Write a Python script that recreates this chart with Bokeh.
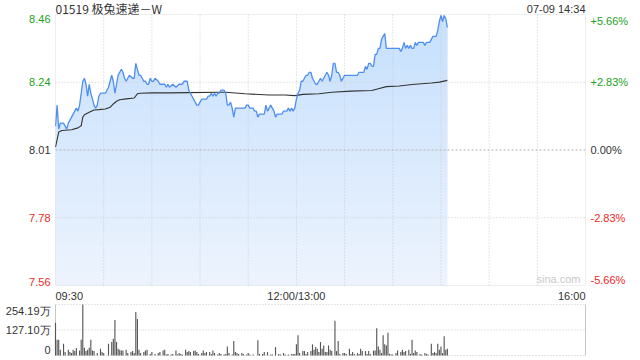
import numpy as np
from bokeh.plotting import figure
from bokeh.models import Range1d, BoxAnnotation
from bokeh.core.properties import value
from bokeh.embed import file_html
from bokeh.resources import INLINE

# ---------------- data ----------------
title_text = "01519 极兔速递－W"
stamp_text = "07-09 14:34"
prev_close = 8.01
pct_steps = [5.66, 2.83, 0.0, -2.83, -5.66]
price_tick_labels = ["8.46", "8.24", "8.01", "7.78", "7.56"]
pct_tick_labels = ["+5.66%", "+2.83%", "0.00%", "-2.83%", "-5.66%"]
time_labels = ["09:30", "12:00/13:00", "16:00"]
time_label_minutes = [0, 150, 330]          # trading minutes since 09:30
session_minutes = 330
vol_top = 254.19
vol_tick_values = [254.19, 127.10, 0]
vol_tick_labels = ["254.19万", "127.10万", "0"]

# (trading minute since 09:30, price)
price_points = [
    (0, 8.09), (1, 8.16), (2, 8.08), (3, 8.10), (5, 8.10), (7, 8.08), (8, 8.10), (10, 8.12),
    (13, 8.15), (14, 8.14), (15, 8.16), (16, 8.20), (17, 8.24), (18, 8.25), (19, 8.23), (20, 8.19),
    (21, 8.23), (22, 8.20), (23, 8.18), (24, 8.16), (25, 8.15), (26, 8.16), (27, 8.19), (28, 8.20),
    (31, 8.20), (33, 8.22), (34, 8.24), (35, 8.26), (36, 8.24), (37, 8.20), (38, 8.23), (39, 8.26),
    (41, 8.28), (42, 8.27), (43, 8.25), (44, 8.24), (45, 8.25), (46, 8.26), (48, 8.25), (49, 8.25),
    (50, 8.30), (51, 8.28), (52, 8.26), (53, 8.26), (54, 8.25), (55, 8.24), (56, 8.24), (57, 8.23),
    (58, 8.23), (59, 8.25), (60, 8.24), (61, 8.24), (62, 8.25), (64, 8.24), (65, 8.23), (66, 8.23),
    (68, 8.23), (69, 8.22), (70, 8.23), (71, 8.22), (73, 8.23), (75, 8.22), (77, 8.23), (79, 8.23),
    (80, 8.24), (82, 8.24), (83, 8.21), (84, 8.20), (85, 8.19), (87, 8.17), (88, 8.16), (89, 8.16),
    (90, 8.17), (91, 8.18), (92, 8.18), (93, 8.18), (94, 8.18), (95, 8.19), (96, 8.19), (97, 8.20),
    (98, 8.19), (99, 8.20), (100, 8.19), (101, 8.20), (102, 8.20), (103, 8.21), (104, 8.21), (105, 8.21),
    (106, 8.20), (107, 8.16), (108, 8.16), (109, 8.17), (110, 8.15), (111, 8.12), (112, 8.15), (113, 8.15),
    (115, 8.15), (118, 8.15), (119, 8.16), (120, 8.16), (121, 8.15), (122, 8.15), (123, 8.15), (124, 8.14),
    (125, 8.14), (126, 8.12), (127, 8.13), (128, 8.13), (129, 8.13), (130, 8.13), (131, 8.16), (132, 8.14),
    (133, 8.15), (134, 8.16), (135, 8.15), (136, 8.14), (137, 8.12), (138, 8.13), (140, 8.13), (141, 8.13),
    (142, 8.14), (143, 8.14), (144, 8.14), (145, 8.15), (146, 8.14), (147, 8.15), (148, 8.14), (149, 8.15),
    (150, 8.18), (151, 8.20), (152, 8.21), (153, 8.24), (154, 8.24), (155, 8.25), (156, 8.26), (157, 8.26),
    (158, 8.27), (159, 8.27), (160, 8.25), (161, 8.24), (162, 8.23), (163, 8.23), (164, 8.24), (165, 8.25),
    (166, 8.24), (167, 8.25), (169, 8.27), (170, 8.26), (171, 8.24), (172, 8.26), (173, 8.30), (174, 8.30),
    (175, 8.27), (176, 8.27), (177, 8.26), (178, 8.24), (179, 8.25), (180, 8.26), (188, 8.26), (189, 8.27),
    (191, 8.27), (192, 8.27), (193, 8.29), (194, 8.28), (195, 8.30), (196, 8.30), (197, 8.29), (198, 8.29),
    (199, 8.33), (200, 8.33), (201, 8.35), (202, 8.35), (203, 8.38), (204, 8.39), (205, 8.40), (206, 8.35),
    (214, 8.35), (215, 8.34), (216, 8.35), (217, 8.37), (218, 8.35), (219, 8.36), (220, 8.35), (221, 8.36),
    (222, 8.35), (223, 8.35), (224, 8.37), (225, 8.36), (226, 8.37), (228, 8.37), (229, 8.37), (230, 8.36),
    (231, 8.37), (233, 8.37), (234, 8.38), (235, 8.39), (236, 8.39), (237, 8.39), (238, 8.41), (239, 8.44),
    (240, 8.46), (241, 8.44), (242, 8.46), (243, 8.45), (244, 8.42),
]

# (trading minute, average price)
avg_points = [
    (0, 8.02), (2, 8.07), (4, 8.075), (10, 8.078), (14, 8.084), (16, 8.091), (17, 8.12), (18, 8.128),
    (21, 8.136), (24, 8.144), (27, 8.145), (31, 8.147), (34, 8.153), (36, 8.164), (38, 8.173), (40, 8.178),
    (44, 8.181), (49, 8.184), (51, 8.198), (53, 8.200), (60, 8.201), (71, 8.201), (82, 8.202), (102, 8.203),
    (106, 8.203), (118, 8.198), (133, 8.194), (143, 8.194), (149, 8.192), (154, 8.196), (164, 8.198),
    (172, 8.203), (184, 8.207), (197, 8.209), (201, 8.215), (206, 8.222), (214, 8.224), (222, 8.229),
    (234, 8.234), (239, 8.237), (244, 8.243),
]

# (trading minute, volume in 万 shares)
volume_points = [
    (0, 163), (1, 79), (2, 79), (3, 29), (5, 59), (6, 17), (8, 29), (9, 17), (10, 12), (11, 29), (12, 22),
    (13, 37), (15, 25), (16, 79), (17, 254), (18, 39), (19, 22), (20, 29), (21, 39), (22, 79), (23, 25),
    (24, 22), (26, 12), (28, 34), (29, 17), (30, 12), (33, 59), (35, 67), (36, 84), (37, 177), (38, 67),
    (39, 34), (40, 29), (41, 25), (42, 25), (44, 29), (45, 12), (47, 17), (48, 22), (49, 12), (50, 217),
    (51, 182), (52, 29), (53, 12), (55, 17), (56, 25), (57, 29), (59, 8), (60, 17), (62, 8), (64, 12),
    (65, 17), (67, 25), (68, 29), (69, 5), (70, 8), (72, 5), (73, 8), (75, 25), (76, 5), (77, 12), (78, 8),
    (79, 5), (81, 29), (82, 17), (83, 22), (84, 17), (86, 22), (87, 25), (88, 17), (89, 8), (91, 12),
    (92, 25), (93, 12), (94, 17), (96, 17), (97, 8), (98, 25), (99, 12), (101, 5), (102, 12), (103, 8),
    (105, 5), (106, 8), (107, 45), (108, 12), (110, 5), (111, 72), (112, 17), (113, 12), (114, 8),
    (116, 12), (117, 8), (119, 5), (120, 12), (121, 5), (123, 5), (126, 76), (127, 8), (129, 8), (130, 17),
    (132, 17), (134, 5), (135, 5), (137, 42), (139, 8), (140, 5), (142, 12), (143, 5), (145, 5), (147, 8),
    (148, 8), (149, 8), (150, 56), (151, 101), (152, 12), (154, 22), (155, 22), (156, 8), (157, 17),
    (159, 22), (160, 56), (161, 29), (162, 42), (163, 34), (164, 17), (165, 67), (166, 34), (167, 50),
    (168, 17), (169, 17), (170, 50), (171, 29), (172, 22), (174, 173), (175, 22), (176, 72), (177, 8),
    (179, 12), (180, 12), (181, 8), (183, 34), (184, 8), (185, 17), (186, 8), (188, 12), (189, 8),
    (190, 34), (191, 22), (193, 22), (194, 8), (195, 22), (196, 8), (198, 25), (199, 25), (200, 136),
    (201, 45), (202, 29), (203, 12), (204, 101), (205, 56), (206, 50), (207, 113), (208, 8), (209, 5),
    (210, 5), (212, 12), (213, 25), (215, 17), (216, 29), (217, 17), (218, 22), (220, 29), (221, 8),
    (222, 79), (223, 12), (224, 25), (225, 17), (227, 8), (228, 5), (230, 12), (231, 8), (232, 5),
    (234, 59), (235, 12), (236, 17), (237, 12), (238, 59), (239, 29), (240, 45), (241, 12), (242, 96),
    (243, 29), (244, 34),
]

# ---------------- styling / layout ----------------
FONT = "Liberation Sans"
TITLE_FONT = "Noto Sans CJK SC"
GREEN = "#1c9f1c"
RED = "#ee1f1f"
DARK = "#333333"
GRID = "#cccccc"
BORDER = "#c6c6c6"
W, H = 640, 360
PANEL_L, PANEL_R = 55, 585          # panel edges in pixels
PRICE_T, PRICE_B = 14, 285
VOL_T, VOL_B = 304, 355

price_min = np.array([a for a, b in price_points], dtype=float)
price_val = np.array([b for a, b in price_points], dtype=float)
avg_min = np.array([a for a, b in avg_points], dtype=float)
avg_val = np.array([b for a, b in avg_points], dtype=float)
vol_min = np.array([a for a, b in volume_points], dtype=float)
vol_val = np.array([b for a, b in volume_points], dtype=float)

lo = prev_close * (1 + pct_steps[-1] / 100)
hi = prev_close * (1 + pct_steps[0] / 100)
tick_prices = [prev_close * (1 + s / 100) for s in pct_steps]

# scale factors (data units per pixel)
kx = session_minutes / (PANEL_R - PANEL_L)
ky = (hi - lo) / (PRICE_B - PRICE_T)
kv = vol_top / (VOL_B - VOL_T)

x_range = Range1d(-PANEL_L * kx, session_minutes + (W - PANEL_R) * kx)
y_range = Range1d(lo - (H - PRICE_B) * ky, hi + PRICE_T * ky)
vol_range = Range1d(-(H - VOL_B) * kv, vol_top + VOL_T * kv)

p = figure(width=W, height=H, x_range=x_range, y_range=y_range,
           output_backend="svg", toolbar_location=None,
           min_border=0, min_border_left=0, min_border_right=0, min_border_top=0, min_border_bottom=0)
p.extra_y_ranges = {"vol": vol_range}
p.axis.visible = False
p.grid.visible = False
p.outline_line_color = None
p.background_fill_color = "white"
p.border_fill_color = "white"


def texts(xs, ys, labels, align, baseline, colors, size="11px", y_range_name="default", font=FONT):
    p.text(x=xs, y=ys, text=labels, text_align=align, text_baseline=baseline,
           text_color=colors, text_font=value(font), text_font_size=value(size),
           y_range_name=y_range_name)


# ---- price panel: gradient-like area fill ----
p.varea(x=price_min, y1=np.full_like(price_val, lo), y2=price_val, fill_color="#eef4fd")
for L in np.linspace(lo, hi, 21)[:-1]:
    p.varea(x=price_min, y1=np.full_like(price_val, L), y2=np.maximum(price_val, L),
            fill_color="#6f9fe8", fill_alpha=0.013)

# grid
grid_t = list(range(30, session_minutes, 30))
p.segment(x0=grid_t, y0=[lo] * len(grid_t), x1=grid_t, y1=[hi] * len(grid_t),
          line_color=GRID, line_dash="1 2", line_width=1)
mid = [tp for s, tp in zip(pct_steps, tick_prices) if s not in (0, pct_steps[0], pct_steps[-1])]
p.segment(x0=[0] * len(mid), y0=mid, x1=[session_minutes] * len(mid), y1=mid,
          line_color=GRID, line_dash="1 2", line_width=1)
p.segment(x0=[0], y0=[prev_close], x1=[session_minutes], y1=[prev_close],
          line_color="#b0b0b0", line_dash="2 2", line_width=1)
p.add_layout(BoxAnnotation(left=0, right=session_minutes, bottom=lo, top=hi,
                           fill_alpha=0, line_color=BORDER, line_width=1))

p.line(avg_min, avg_val, line_color="#333333", line_width=1.1)
p.line(price_min, price_val, line_color="#4d8ef0", line_width=1.3)

# price axis labels
colors = [GREEN if s > 0 else (RED if s < 0 else DARK) for s in pct_steps]
n = len(tick_prices)
for i in range(n):
    base = "top" if i == 0 else ("bottom" if i == n - 1 else "middle")
    texts([-5 * kx], [tick_prices[i]], [price_tick_labels[i]], "right", base, [colors[i]])
    texts([session_minutes + 5 * kx], [tick_prices[i]], [pct_tick_labels[i]], "left", base, [colors[i]])

# time labels
for t, lab, al in zip(time_label_minutes, time_labels, ["left", "center", "right"]):
    texts([t], [lo - 4 * ky], [lab], al, "top", [DARK])

# header (vertically centred about 6 px above the panel top)
texts([0], [hi + 6 * ky], [title_text], "left", "middle", [DARK], size="12px", font=TITLE_FONT)
texts([session_minutes], [hi + 6 * ky], [stamp_text], "right", "middle", [DARK])
texts([session_minutes - 5 * kx], [lo + 1 * ky], ["sina.com"], "right", "bottom", ["#c9c9c9"])

# ---- volume panel ----
p.segment(x0=[0] * 3, y0=vol_tick_values, x1=[session_minutes] * 3, y1=vol_tick_values,
          line_color=GRID, line_dash="1 2", line_width=1, y_range_name="vol")
p.segment(x0=[0, session_minutes], y0=[0, 0], x1=[0, session_minutes], y1=[vol_top, vol_top],
          line_color=BORDER, line_width=1, y_range_name="vol")
p.vbar(x=vol_min, top=vol_val, width=0.7, fill_color="#555555", line_color=None, y_range_name="vol")

vol_label_y = [vol_tick_values[0], vol_tick_values[1], vol_tick_values[2] + 2 * kv]
for yv, lab, base in zip(vol_label_y, vol_tick_labels, ["top", "middle", "bottom"]):
    texts([-5 * kx], [yv], [lab], "right", base, [DARK], y_range_name="vol")

open("out.html", "w").write(file_html(p, INLINE))
